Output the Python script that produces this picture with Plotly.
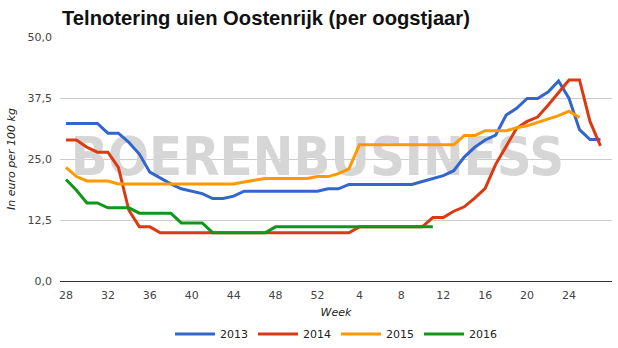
import plotly.graph_objects as go

weeks = [str(w) for w in list(range(28, 53)) + list(range(1, 28))]

y2013 = [32.3, 32.3, 32.3, 32.3, 30.3, 30.3, 28.4, 26.0, 22.3, 21.1, 19.9, 18.9, 18.4, 17.9, 16.9, 16.9,
         17.4, 18.4, 18.4, 18.4, 18.4, 18.4, 18.4, 18.4, 18.4,
         18.9, 18.9, 19.8, 19.8, 19.8, 19.8, 19.8, 19.8, 19.8, 20.4, 21.0, 21.6, 22.6, 25.4, 27.4, 28.9,
         29.9, 34.0, 35.4, 37.4, 37.4, 38.7, 41.0, 37.4, 31.0, 29.0, 29.0]
y2014 = [28.9, 28.9, 27.4, 26.4, 26.4, 23.3, 14.5, 11.1, 11.1, 9.9, 9.9, 9.9, 9.9, 9.9, 9.9, 9.9,
         9.9, 9.9, 9.9, 9.9, 9.9, 9.9, 9.9, 9.9, 9.9,
         9.9, 9.9, 9.9, 11.1, 11.1, 11.1, 11.1, 11.1, 11.1, 11.1, 13.0, 13.0, 14.3, 15.2, 17.0, 19.0,
         23.9, 27.6, 31.3, 32.7, 33.6, 36.0, 38.7, 41.2, 41.2, 32.7, 27.7]
y2015 = [23.3, 21.4, 20.5, 20.5, 20.5, 19.9, 19.9, 19.9, 19.9, 19.9, 19.9, 19.9, 19.9, 19.9, 19.9, 19.9,
         19.9, 20.3, 20.7, 21.0, 21.0, 21.0, 21.0, 21.0, 21.4,
         21.4, 22.0, 23.0, 27.9, 27.9, 27.9, 27.9, 27.9, 27.9, 27.9, 27.9, 27.9, 27.9, 29.8, 29.8, 30.8,
         30.8, 30.8, 31.4, 31.8, 32.5, 33.2, 33.9, 34.8, 33.5]
y2016 = [20.8, 18.6, 16.0, 16.0, 15.0, 15.0, 15.0, 13.9, 13.9, 13.9, 13.9, 11.9, 11.9, 11.9, 9.9, 9.9,
         9.9, 9.9, 9.9, 9.9, 11.1, 11.1, 11.1, 11.1, 11.1,
         11.1, 11.1, 11.1, 11.1, 11.1, 11.1, 11.1, 11.1, 11.1, 11.1, 11.1]

series = [("2013", y2013, "#3366cc"), ("2014", y2014, "#dc3912"),
          ("2015", y2015, "#ff9900"), ("2016", y2016, "#109618")]

tick_weeks = ["28", "32", "36", "40", "44", "48", "52", "4", "8", "12", "16", "20", "24"]
y_ticks = [0, 12.5, 25, 37.5, 50]

fig = go.Figure()
# watermark, drawn first so the lines go over it
fig.add_trace(go.Scatter(x=["52"], y=[24.4], mode="text", text=["<b>BOERENBUSINESS</b>"],
                         textposition="middle center", showlegend=False, hoverinfo="skip",
                         textfont=dict(family="DejaVu Sans Condensed", size=54, color="#d6d6d6")))
for name, vals, color in series:
    fig.add_trace(go.Scatter(x=weeks[:len(vals)], y=vals, mode="lines", name=name,
                             line=dict(color=color, width=3), hoverinfo="skip"))

tickfont = dict(family="DejaVu Sans", size=11, color="#444444")
fig.update_layout(
    width=618, height=348,
    margin=dict(l=60, r=6, t=37, b=67, autoexpand=False),
    plot_bgcolor="white", paper_bgcolor="white",
    separators=",.",
    showlegend=True,
    title=dict(text="<b>Telnotering uien Oostenrijk (per oogstjaar)</b>",
               x=62 / 618, xanchor="left", y=1 - 18 / 348, yanchor="middle",
               font=dict(family="Liberation Sans", size=20.2, color="#111111")),
    legend=dict(orientation="h", x=0.5, xanchor="center",
                yref="container", y=1 - 334 / 348, yanchor="middle",
                font=dict(family="DejaVu Sans", size=11, color="#222222"),
                itemwidth=40, tracegroupgap=0),
    xaxis=dict(type="category", categoryorder="array", categoryarray=weeks,
               range=[-0.57, 52.1], tickmode="array", tickvals=tick_weeks, ticktext=tick_weeks,
               showgrid=False, zeroline=False, showline=False, ticks="",
               ticklabelstandoff=6, automargin=False,
               tickfont=tickfont,
               title=dict(text="<i>Week</i>", standoff=10,
                          font=dict(family="DejaVu Sans", size=11, color="#222222"))),
    yaxis=dict(range=[0, 50], tickmode="array", tickvals=y_ticks, tickformat=".1f",
               showgrid=True, gridcolor="#cccccc", gridwidth=1,
               zeroline=True, zerolinecolor="#333333", zerolinewidth=1,
               showline=False, ticks="", tickfont=tickfont,
               ticklabelstandoff=7, automargin=False,
               title=dict(text="<i>In euro per 100 kg</i>", standoff=9,
                          font=dict(family="DejaVu Sans", size=11, color="#222222"))),
)

fig.write_html("out.html")
